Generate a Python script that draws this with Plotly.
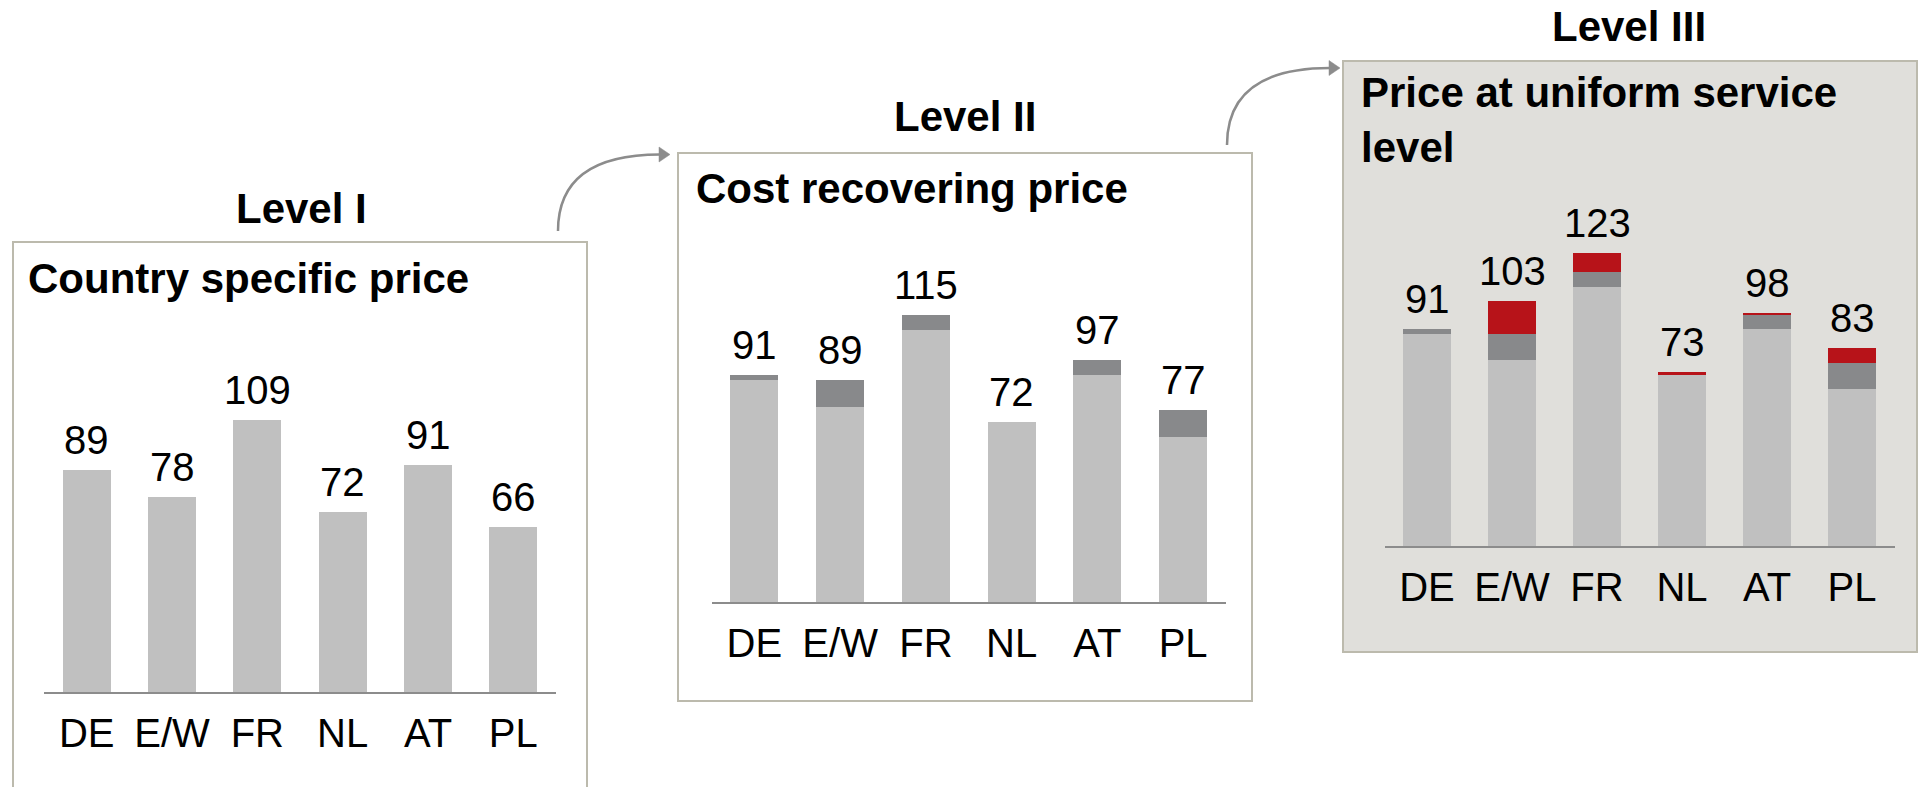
import plotly.graph_objects as go

W, H = 1923, 787

# Prices per country at the three valuation levels
countries = ["DE", "E/W", "FR", "NL", "AT", "PL"]
price_country = [89, 78, 109, 72, 91, 66]      # Level I
price_cost = [91, 89, 115, 72, 97, 77]         # Level II
price_uniform = [91, 103, 123, 73, 98, 83]     # Level III

level_titles = ["Level I", "Level II", "Level III"]
panel_titles = ["Country specific price", "Cost recovering price",
                "Price at uniform service<br>level"]

# stacked segments: what each level adds on top of the previous one
cost_step = [b - a for a, b in zip(price_country, price_cost)]
service_step = [c - b for b, c in zip(price_cost, price_uniform)]

LIGHT = "#c0c0c0"
DARK = "#88898b"
RED = "#b71319"
PANEL_BG = "#e0dfdb"
BORDER = "#bcbaad"
AXIS = "#8c8c8c"
ARROW = "#8c8c8c"
FONT = "Liberation Sans, Arial, sans-serif"


def px(x):
    return x / W


def py(y):
    return 1 - y / H


BAR_W = 0.56
YMAX = 130

fig = go.Figure()


def add_bar(values, color, xa, ya):
    fig.add_trace(go.Bar(
        x=countries, y=values, width=BAR_W, marker=dict(color=color, line=dict(width=0)),
        xaxis=xa, yaxis=ya, hoverinfo="skip", showlegend=False,
    ))


add_bar(price_country, LIGHT, "x", "y")

add_bar(price_country, LIGHT, "x2", "y2")
add_bar(cost_step, DARK, "x2", "y2")

add_bar(price_country, LIGHT, "x3", "y3")
add_bar(cost_step, DARK, "x3", "y3")
add_bar(service_step, RED, "x3", "y3")

# panel geometry in pixels: x-domain, baseline, px per unit
panels = [
    dict(x0=44, x1=556, base=692, scale=2.5),
    dict(x0=711.5, x1=1226, base=602, scale=2.5),
    dict(x0=1384.5, x1=1894.5, base=546, scale=2.38),
]

axis_common = dict(
    type="category", range=[-0.5, 5.5], showline=True, linecolor=AXIS, linewidth=2,
    ticks="", showgrid=False, zeroline=False, fixedrange=True,
    tickfont=dict(family=FONT, size=40, color="#000000"), ticklabelstandoff=5,
)
for i, p in enumerate(panels):
    sfx = "" if i == 0 else str(i + 1)
    top = p["base"] - YMAX * p["scale"]
    fig.layout["xaxis" + sfx] = dict(domain=[px(p["x0"]), px(p["x1"])],
                                     anchor="y" + sfx, **axis_common)
    fig.layout["yaxis" + sfx] = dict(domain=[py(p["base"]), py(top)], range=[0, YMAX],
                                     anchor="x" + sfx, visible=False, fixedrange=True)

annotations = []

# value labels on top of each stack
for i, totals in enumerate([price_country, price_cost, price_uniform]):
    sfx = "" if i == 0 else str(i + 1)
    for c, v in zip(countries, totals):
        annotations.append(dict(
            x=c, y=v, xref="x" + sfx, yref="y" + sfx, text=str(v), showarrow=False,
            xanchor="center", yanchor="middle", yshift=30,
            font=dict(family=FONT, size=40, color="#000000"),
        ))

# level headings above the boxes
for t, (cx, cy) in zip(level_titles, [(301, 208), (965, 116), (1629, 26)]):
    annotations.append(dict(
        x=px(cx), y=py(cy), xref="paper", yref="paper", text=f"<b>{t}</b>",
        showarrow=False, xanchor="center", yanchor="middle",
        font=dict(family=FONT, size=42, color="#000000"),
    ))

# panel titles inside the boxes
for t, (lx, cy) in zip(panel_titles, [(26, 278), (694, 189), (1359, 120)]):
    annotations.append(dict(
        x=px(lx), y=py(cy), xref="paper", yref="paper", text=f"<b>{t}</b>",
        showarrow=False, xanchor="left", yanchor="middle", align="left",
        font=dict(family=FONT, size=42, color="#000000"),
    ))

shapes = []
# panel boxes
for (x0, y0, x1, y1), fill in zip(
        [(13, 242, 587, 800), (678, 153, 1252, 701), (1343, 61, 1917, 652)],
        ["rgba(0,0,0,0)", "rgba(0,0,0,0)", PANEL_BG]):
    shapes.append(dict(type="rect", xref="paper", yref="paper",
                       x0=px(x0), y0=py(y0), x1=px(x1), y1=py(y1),
                       line=dict(color=BORDER, width=2), fillcolor=fill, layer="below"))

# curved arrows leading from one level to the next
for (sx, sy), (tx, ty) in [((558, 231), (670, 154.5)), ((1227, 145), (1340, 68))]:
    hx = tx - 11
    shapes.append(dict(
        type="path", xref="paper", yref="paper",
        path=f"M {px(sx)},{py(sy)} Q {px(sx)},{py(ty)} {px(hx + 1)},{py(ty)}",
        line=dict(color=ARROW, width=2.5), layer="above",
    ))
    shapes.append(dict(
        type="path", xref="paper", yref="paper",
        path=(f"M {px(hx)},{py(ty - 7.5)} L {px(tx)},{py(ty)} "
              f"L {px(hx)},{py(ty + 7.5)} Z"),
        line=dict(color=ARROW, width=0.5), fillcolor=ARROW, layer="above",
    ))

fig.update_layout(
    width=W, height=H, autosize=False,
    margin=dict(l=0, r=0, t=0, b=0, pad=0),
    barmode="stack",
    paper_bgcolor="#ffffff", plot_bgcolor="rgba(0,0,0,0)",
    showlegend=False,
    annotations=annotations, shapes=shapes,
    font=dict(family=FONT),
)

fig.write_html("out.html", config={"displayModeBar": False})
